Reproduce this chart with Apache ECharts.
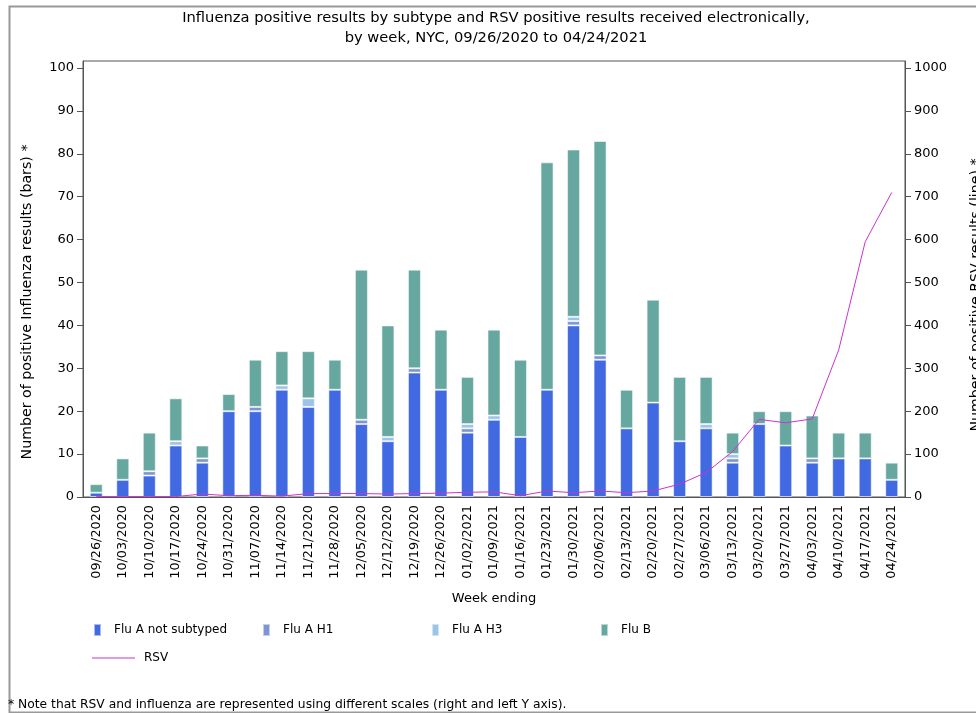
<!DOCTYPE html>
<html>
<head>
<meta charset="utf-8">
<script src="https://cdn.jsdelivr.net/npm/echarts@6/dist/echarts.min.js"></script>
<style>
html,body{margin:0;padding:0;background:#fff;}
#chart{width:976px;height:713px;}
</style>
</head>
<body>
<div id="chart"></div>
<script>
var weeks = ['09/26/2020','10/03/2020','10/10/2020','10/17/2020','10/24/2020','10/31/2020','11/07/2020','11/14/2020','11/21/2020','11/28/2020','12/05/2020','12/12/2020','12/19/2020','12/26/2020','01/02/2021','01/09/2021','01/16/2021','01/23/2021','01/30/2021','02/06/2021','02/13/2021','02/20/2021','02/27/2021','03/06/2021','03/13/2021','03/20/2021','03/27/2021','04/03/2021','04/10/2021','04/17/2021','04/24/2021'];
var fluANotSubtyped = [1,4,5,12,8,20,20,25,21,25,17,13,29,25,15,18,14,25,40,32,16,22,13,16,8,17,12,8,9,9,4];
var fluAH1 = [0,0,1,0,1,0,1,0,0,0,1,0,1,0,1,0,0,0,1,1,0,0,0,0,1,0,0,1,0,0,0];
var fluAH3 = [0,0,0,1,0,0,0,1,2,0,0,1,0,0,1,1,0,0,1,0,0,0,0,1,1,0,0,0,0,0,0];
var fluB = [2,5,9,10,3,4,11,8,11,7,35,26,23,14,11,20,18,53,39,50,9,24,15,11,5,3,8,10,6,6,4];
var rsv = [1,1,1,1,7,3,4,2,8,8,8,7,8,9,11,12,3,14,10,14,10,14,30,57,106,181,173,182,343,595,710];
var leftTicks = [0,10,20,30,40,50,60,70,80,90,100];
var rightTicks = [0,100,200,300,400,500,600,700,800,900,1000];

var FONT = 'DejaVu Sans';
function nz(arr){ return arr.map(function(v){ return v === 0 ? null : v; }); }
function barSeries(name, data, color){
  return {
    name: name, type: 'bar', stack: 'flu', data: nz(data), barWidth: 13,
    itemStyle: {color: color, borderColor: 'rgba(255,255,255,0.55)', borderWidth: 1},
    emphasis: {disabled: true}
  };
}
function legendItem(name, left, top, icon, w, h, pad){
  return {
    data: [{name: name, icon: icon}], left: left, top: top, itemWidth: w, itemHeight: h,
    selectedMode: false, padding: 0,
    textStyle: {fontFamily: FONT, fontSize: 12, color: '#000', padding: [0,0,0,pad]}
  };
}

var chart = echarts.init(document.getElementById('chart'), null, {renderer: 'canvas'});
chart.setOption({
  animation: false,
  backgroundColor: '#fff',
  title: [{
    text: 'Influenza positive results by subtype and RSV positive results received electronically,\nby week, NYC, 09/26/2020 to 04/24/2021',
    left: 496, top: 8, textAlign: 'center', padding: 0,
    textStyle: {fontFamily: FONT, fontSize: 14.7, fontWeight: 'normal', color: '#000', lineHeight: 20}
  }, {
    text: '* Note that RSV and influenza are represented using different scales (right and left Y axis).',
    left: 8, top: 699, padding: 0,
    textStyle: {fontFamily: FONT, fontSize: 12.3, fontWeight: 'normal', color: '#000'}
  }],
  legend: [
    legendItem('Flu A not subtyped', 93, 623, 'rect', 7, 12, 8),
    legendItem('Flu A H1', 262, 623, 'rect', 7, 12, 8),
    legendItem('Flu A H3', 431, 623, 'rect', 7, 12, 8),
    legendItem('Flu B', 600, 623, 'rect', 7, 12, 8),
    legendItem('RSV', 92, 652, 'rect', 43, 1.2, 4)
  ],
  grid: {left: 83, right: 71, top: 61, bottom: 216, show: true, borderColor: '#555', borderWidth: 1, containLabel: false},
  xAxis: {
    type: 'category', data: weeks,
    axisLine: {lineStyle: {color: '#555'}},
    axisTick: {show: false},
    axisLabel: {rotate: 90, interval: 0, margin: 8, fontFamily: FONT, fontSize: 12.8, color: '#000'},
    name: 'Week ending', nameLocation: 'middle', nameGap: 95,
    nameTextStyle: {fontFamily: FONT, fontSize: 13, color: '#000', padding: [0,0,0,0]}
  },
  yAxis: [{
    type: 'value', min: 0, max: 101.63, interval: 10,
    axisLine: {show: true, lineStyle: {color: '#555'}},
    axisTick: {show: true, length: 6, customValues: leftTicks, lineStyle: {color: '#555'}},
    axisLabel: {margin: 9, customValues: leftTicks, fontFamily: FONT, fontSize: 13, color: '#000',
      formatter: function(v){ return v % 10 === 0 ? String(v) : ''; }},
    splitLine: {show: false}
  }, {
    type: 'value', min: 0, max: 1016.3, interval: 100, position: 'right',
    axisLine: {show: true, lineStyle: {color: '#555'}},
    axisTick: {show: true, length: 6, customValues: rightTicks, lineStyle: {color: '#555'}},
    axisLabel: {margin: 9, customValues: rightTicks, fontFamily: FONT, fontSize: 13, color: '#000',
      formatter: function(v){ return v % 100 === 0 ? String(v) : ''; }},
    splitLine: {show: false}
  }],
  series: [
    barSeries('Flu A not subtyped', fluANotSubtyped, '#4169E1'),
    barSeries('Flu A H1', fluAH1, '#7E95D3'),
    barSeries('Flu A H3', fluAH3, '#9DC3E6'),
    barSeries('Flu B', fluB, '#66A8A0'),
    {
      name: 'RSV', type: 'line', yAxisIndex: 1, data: rsv, symbol: 'none',
      lineStyle: {color: '#CC33CC', width: 1}, itemStyle: {color: '#CC33CC'}, z: 5,
      emphasis: {disabled: true}
    }
  ],
  graphic: [
    {type: 'rect', silent: true, shape: {x: 9.5, y: 6.5, width: 980, height: 706},
     style: {fill: null, stroke: '#999', lineWidth: 2}, z: -1},
    {type: 'text', silent: true, x: 27.5, y: 302, rotation: Math.PI / 2,
     style: {text: 'Number of positive Influenza results (bars) *', fontFamily: FONT, fontSize: 14.2, fill: '#000', align: 'center', verticalAlign: 'middle'}},
    {type: 'text', silent: true, x: 976, y: 295, rotation: Math.PI / 2,
     style: {text: 'Number of positive RSV results (line) *', fontFamily: FONT, fontSize: 14.2, fill: '#000', align: 'center', verticalAlign: 'middle'}}
  ]
});
</script>
</body>
</html>
